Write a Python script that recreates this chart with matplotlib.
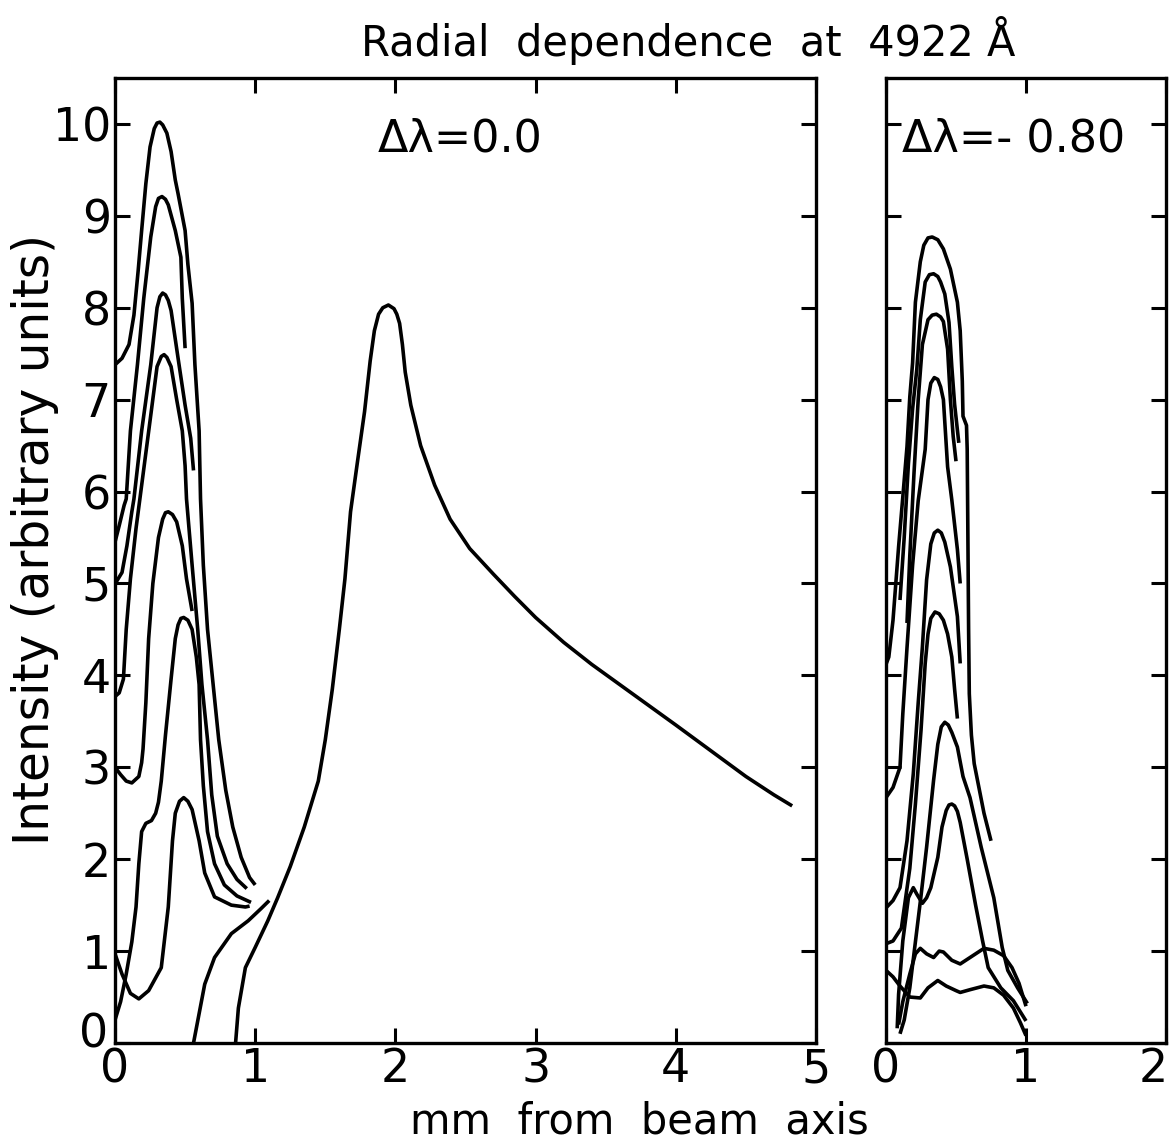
import numpy as np
import matplotlib.pyplot as plt
from matplotlib.transforms import ScaledTranslation

# ---- data (mm from beam axis, intensity) ----

# left panel, delta lambda = 0.0
a_x = [0.0, 0.05, 0.1, 0.135, 0.165, 0.19, 0.22, 0.25, 0.28, 0.30, 0.32, 0.34, 0.37, 0.40, 0.43,
       0.45, 0.50, 0.52, 0.55, 0.57, 0.60, 0.61, 0.63, 0.66, 0.70, 0.74, 0.79, 0.84, 0.90, 0.96, 1.0]
a_y = [7.38, 7.45, 7.6, 7.92, 8.4, 8.84, 9.35, 9.75, 9.95, 10.01, 10.02, 9.99, 9.9, 9.7, 9.39,
       9.24, 8.84, 8.47, 8.05, 7.38, 6.66, 5.92, 5.2, 4.5, 3.9, 3.3, 2.75, 2.35, 2.02, 1.8, 1.72]

b_x = [0.0, 0.03, 0.065, 0.08, 0.11, 0.16, 0.205, 0.255, 0.29, 0.31, 0.335, 0.36, 0.38, 0.43,
       0.47, 0.48, 0.50]
b_y = [5.45, 5.63, 5.85, 5.92, 6.66, 7.38, 8.1, 8.77, 9.1, 9.19, 9.21, 9.18, 9.12, 8.84,
       8.55, 8.1, 7.56]

c_x = [0.01, 0.05, 0.085, 0.12, 0.135, 0.19, 0.255, 0.30, 0.32, 0.34, 0.36, 0.38, 0.40, 0.45,
       0.50, 0.54, 0.56]
c_y = [5.02, 5.12, 5.41, 5.78, 5.92, 6.66, 7.38, 8.0, 8.12, 8.16, 8.14, 8.08, 7.97, 7.45,
       6.94, 6.58, 6.23]

d_x = [0.0, 0.03, 0.06, 0.08, 0.11, 0.15, 0.18, 0.255, 0.30, 0.33, 0.35, 0.37, 0.40, 0.44, 0.48,
       0.50, 0.51, 0.55, 0.59, 0.62, 0.66, 0.69, 0.73, 0.80, 0.87, 0.94]
d_y = [3.77, 3.81, 3.96, 4.5, 5.05, 5.6, 5.95, 6.83, 7.36, 7.47, 7.49, 7.46, 7.36, 7.0, 6.66,
       6.28, 5.92, 5.2, 4.5, 3.9, 3.3, 2.7, 2.25, 1.95, 1.78, 1.68]

e_x = [0.0, 0.04, 0.08, 0.12, 0.17, 0.19, 0.20, 0.22, 0.24, 0.27, 0.31, 0.34, 0.36, 0.38, 0.41,
       0.44, 0.48, 0.51, 0.55]
e_y = [3.0, 2.92, 2.85, 2.83, 2.9, 3.05, 3.2, 3.7, 4.4, 5.0, 5.5, 5.7, 5.77, 5.78, 5.75,
       5.67, 5.41, 5.05, 4.7]

f_x = [0.0, 0.04, 0.08, 0.12, 0.15, 0.17, 0.19, 0.22, 0.26, 0.29, 0.31, 0.33, 0.36, 0.40, 0.43,
       0.45, 0.47, 0.49, 0.52, 0.55, 0.58, 0.60, 0.61, 0.63, 0.66, 0.71, 0.78, 0.87, 0.97]
f_y = [0.25, 0.45, 0.75, 1.1, 1.48, 1.95, 2.3, 2.39, 2.42, 2.5, 2.62, 2.85, 3.35, 3.96, 4.4,
       4.55, 4.62, 4.63, 4.6, 4.5, 4.2, 3.9, 3.3, 2.8, 2.3, 1.95, 1.72, 1.6, 1.53]

g_x = [0.0, 0.05, 0.11, 0.17, 0.24, 0.33, 0.38, 0.41, 0.43, 0.46, 0.49, 0.52, 0.55, 0.60, 0.64,
       0.71, 0.83, 0.93, 0.96]
g_y = [0.97, 0.75, 0.54, 0.48, 0.57, 0.82, 1.48, 2.2, 2.5, 2.63, 2.67, 2.63, 2.54, 2.2, 1.85,
       1.59, 1.5, 1.48, 1.49]

h_x = [0.56, 0.6, 0.64, 0.71, 0.83, 0.95, 1.04, 1.1]
h_y = [0.0, 0.32, 0.64, 0.93, 1.19, 1.33, 1.46, 1.55]

main_x = [0.86, 0.88, 0.93, 1.0, 1.09, 1.16, 1.25, 1.35, 1.45, 1.5, 1.55, 1.60, 1.64, 1.68, 1.73,
          1.78, 1.82, 1.85, 1.88, 1.91, 1.95, 1.99, 2.01, 2.03, 2.05, 2.07, 2.11, 2.18, 2.28,
          2.39, 2.53, 2.70, 2.85, 3.0, 3.2, 3.4, 3.6, 3.8, 4.0, 4.25, 4.5, 4.7, 4.83]
main_y = [0.0, 0.38, 0.82, 1.04, 1.33, 1.58, 1.92, 2.35, 2.85, 3.3, 3.85, 4.5, 5.05, 5.78, 6.33,
          6.87, 7.42, 7.75, 7.93, 8.0, 8.03, 7.99, 7.93, 7.83, 7.6, 7.3, 6.94, 6.5, 6.07,
          5.7, 5.38, 5.1, 4.86, 4.63, 4.36, 4.12, 3.9, 3.68, 3.46, 3.18, 2.9, 2.7, 2.58]

# right panel, delta lambda = -0.80
r1_x = [0.0, 0.02, 0.05, 0.09, 0.12, 0.15, 0.17, 0.19, 0.21, 0.245, 0.27, 0.30, 0.33, 0.37,
        0.41, 0.46, 0.51, 0.53, 0.545, 0.55, 0.575, 0.58, 0.585, 0.59, 0.595, 0.61, 0.63,
        0.70, 0.75]
r1_y = [4.12, 4.2, 4.6, 5.4, 5.94, 6.49, 7.03, 7.4, 8.06, 8.5, 8.68, 8.76, 8.77, 8.74,
        8.64, 8.42, 8.06, 7.75, 7.2, 6.82, 6.72, 6.46, 5.5, 4.5, 3.8, 3.35, 3.04, 2.5, 2.2]

r2_x = [0.1, 0.13, 0.16, 0.19, 0.22, 0.245, 0.28, 0.31, 0.34, 0.37, 0.39, 0.42, 0.45, 0.47,
        0.49, 0.52]
r2_y = [4.82, 5.5, 6.3, 6.9, 7.33, 7.87, 8.28, 8.36, 8.37, 8.34, 8.28, 8.15, 7.84, 7.36,
        6.95, 6.53]

r3_x = [0.15, 0.17, 0.2, 0.23, 0.26, 0.3, 0.33, 0.36, 0.39, 0.41, 0.44, 0.46, 0.48, 0.50]
r3_y = [4.57, 5.3, 6.2, 7.0, 7.6, 7.87, 7.92, 7.93, 7.9, 7.85, 7.55, 7.0, 6.6, 6.33]

r4_x = [0.0, 0.05, 0.1, 0.12, 0.15, 0.19, 0.23, 0.28, 0.30, 0.32, 0.345, 0.37, 0.39, 0.41,
        0.44, 0.47, 0.51, 0.53]
r4_y = [2.67, 2.78, 3.0, 3.58, 4.3, 5.2, 5.9, 6.46, 7.0, 7.18, 7.24, 7.22, 7.14, 7.0,
        6.27, 5.91, 5.37, 5.0]

r5_x = [0.0, 0.05, 0.1, 0.15, 0.195, 0.23, 0.26, 0.29, 0.32, 0.345, 0.37, 0.395, 0.42, 0.46,
        0.51, 0.53]
r5_y = [1.47, 1.55, 1.69, 2.2, 2.93, 3.7, 4.31, 5.04, 5.43, 5.55, 5.58, 5.55, 5.45, 5.18,
        4.64, 4.13]

r6_x = [0.0, 0.05, 0.11, 0.17, 0.21, 0.25, 0.28, 0.30, 0.32, 0.35, 0.38, 0.41, 0.44, 0.47,
        0.49, 0.51]
r6_y = [1.08, 1.11, 1.25, 1.9, 2.6, 3.4, 4.13, 4.45, 4.62, 4.69, 4.67, 4.6, 4.45, 4.2,
        3.85, 3.53]

r7_x = [0.1, 0.13, 0.17, 0.21, 0.25, 0.29, 0.34, 0.37, 0.395, 0.42, 0.445, 0.47, 0.51, 0.55,
        0.60, 0.68, 0.77, 0.83, 0.87, 0.94, 1.01]
r7_y = [0.1, 0.25, 0.6, 1.1, 1.6, 2.13, 2.86, 3.25, 3.44, 3.49, 3.46, 3.38, 3.22, 2.9,
        2.67, 2.13, 1.58, 1.04, 0.79, 0.6, 0.43]

r8_x = [0.08, 0.09, 0.12, 0.16, 0.195, 0.22, 0.26, 0.29, 0.32, 0.37, 0.40, 0.43, 0.45, 0.47,
        0.49, 0.51, 0.53, 0.58, 0.64, 0.69, 0.73, 0.82, 0.91, 1.0]
r8_y = [0.16, 0.53, 1.11, 1.58, 1.69, 1.62, 1.52, 1.58, 1.69, 2.02, 2.35, 2.53, 2.59, 2.6,
        2.58, 2.52, 2.4, 2.0, 1.5, 1.11, 0.82, 0.6, 0.46, 0.24]

r9_x = [0.09, 0.12, 0.17, 0.21, 0.245, 0.29, 0.34, 0.38, 0.41, 0.47, 0.53, 0.6, 0.70, 0.77, 0.84,
        0.9, 0.95, 1.0]
r9_y = [0.2, 0.45, 0.75, 0.97, 1.03, 0.97, 0.93, 1.0, 0.99, 0.9, 0.86, 0.93, 1.03, 1.01, 0.95,
        0.82, 0.65, 0.4]

r10_x = [0.0, 0.05, 0.1, 0.17, 0.245, 0.3, 0.37, 0.43, 0.5, 0.53, 0.6, 0.7, 0.77, 0.84, 0.91,
         0.96, 1.0]
r10_y = [0.79, 0.72, 0.62, 0.5, 0.49, 0.6, 0.68, 0.62, 0.57, 0.55, 0.58, 0.62, 0.6, 0.52, 0.38,
         0.22, 0.08]

left_curves = [(a_x, a_y), (b_x, b_y), (c_x, c_y), (d_x, d_y), (e_x, e_y), (f_x, f_y),
               (g_x, g_y), (h_x, h_y), (main_x, main_y)]
right_curves = [(r1_x, r1_y), (r2_x, r2_y), (r3_x, r3_y), (r4_x, r4_y), (r5_x, r5_y),
                (r6_x, r6_y), (r7_x, r7_y), (r8_x, r8_y), (r9_x, r9_y), (r10_x, r10_y)]

left_xticks = [0, 1, 2, 3, 4, 5]
right_xticks = [0, 1, 2]
yticks = list(range(0, 11))

plt.rcParams['font.family'] = 'DejaVu Sans'

fig = plt.figure(figsize=(11.76, 11.46), dpi=100)
ax1 = fig.add_axes([115 / 1176, 1 - 1043 / 1146, 701 / 1176, 965 / 1146])
ax2 = fig.add_axes([886 / 1176, 1 - 1043 / 1146, 280 / 1176, 965 / 1146])

for cx, cy in left_curves:
    ax1.plot(cx, cy, color='black', lw=2.6, solid_joinstyle='round', solid_capstyle='butt')
for cx, cy in right_curves:
    ax2.plot(cx, cy, color='black', lw=2.6, solid_joinstyle='round', solid_capstyle='butt')

ax1.set_xlim(0, 5)
ax2.set_xlim(0, 2)
for ax in (ax1, ax2):
    ax.set_ylim(0, 10.5)
    ax.set_yticks(yticks)
    for s in ax.spines.values():
        s.set_linewidth(2.4)
    ax.tick_params(direction='in', length=11, width=2.2, top=True, right=True,
                   labelsize=33, pad=3)

ax1.set_xticks(left_xticks)
ax1.set_xticklabels([str(t) for t in left_xticks])
ax1.set_yticklabels([str(t) for t in yticks])
ax2.set_xticks(right_xticks)
ax2.set_xticklabels([str(t) for t in right_xticks])
ax2.set_yticklabels([])

# keep the last tick label of the small panel inside the figure
last = ax2.get_xticklabels()[-1]
last.set_transform(last.get_transform() + ScaledTranslation(-9 / 72, 0, fig.dpi_scale_trans))

# the y "0" sits a little higher so it clears the x "0"
zero = ax1.get_yticklabels()[0]
zero.set_transform(zero.get_transform() + ScaledTranslation(-2 / 72, 9 / 72, fig.dpi_scale_trans))

ax1.text(2.46, 9.84, 'Δλ=0.0', fontsize=32, ha='center', va='center')
ax2.text(0.91, 9.84, 'Δλ=- 0.80', fontsize=32, ha='center', va='center')

fig.text(0.585, 0.951, 'Radial  dependence  at  4922 Å', fontsize=30, ha='center', va='baseline')
fig.text(0.544, 0.011, 'mm  from  beam  axis', fontsize=30, ha='center', va='baseline')
fig.text(0.030, 0.529, 'Intensity (arbitrary units)', fontsize=35, rotation=90,
         ha='center', va='center')

fig.savefig('out.png', dpi=100)
